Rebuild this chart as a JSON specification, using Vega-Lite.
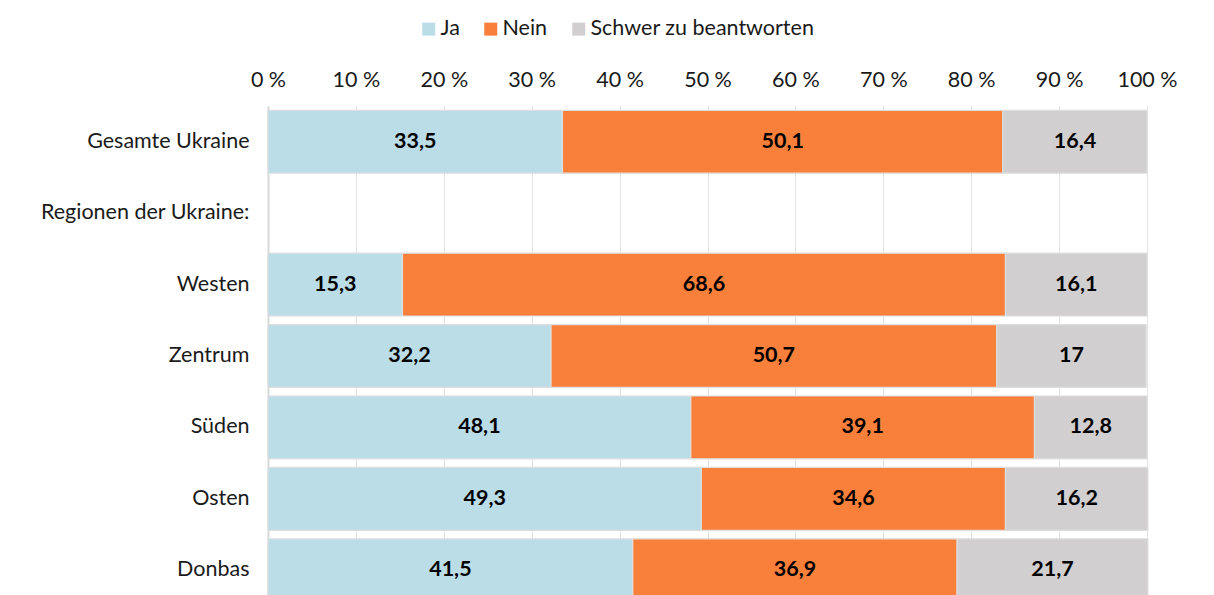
{
  "$schema": "https://vega.github.io/schema/vega-lite/v6.json",
  "autosize": {"type": "none"},
  "padding": {"left": 268, "top": 106, "right": 67, "bottom": 0},
  "width": 879,
  "height": 500,
  "background": "white",
  "config": {
    "font": "Lato",
    "view": {"stroke": null},
    "locale": {"number": {"decimal": ",", "thousands": ".", "grouping": [3], "currency": ["", " €"]}}
  },
  "data": {
    "values": [
      {"region": "Gesamte Ukraine", "answer": "Ja", "value": 33.5},
      {"region": "Gesamte Ukraine", "answer": "Nein", "value": 50.1},
      {"region": "Gesamte Ukraine", "answer": "Schwer zu beantworten", "value": 16.4},
      {"region": "Westen", "answer": "Ja", "value": 15.3},
      {"region": "Westen", "answer": "Nein", "value": 68.6},
      {"region": "Westen", "answer": "Schwer zu beantworten", "value": 16.1},
      {"region": "Zentrum", "answer": "Ja", "value": 32.2},
      {"region": "Zentrum", "answer": "Nein", "value": 50.7},
      {"region": "Zentrum", "answer": "Schwer zu beantworten", "value": 17},
      {"region": "Süden", "answer": "Ja", "value": 48.1},
      {"region": "Süden", "answer": "Nein", "value": 39.1},
      {"region": "Süden", "answer": "Schwer zu beantworten", "value": 12.8},
      {"region": "Osten", "answer": "Ja", "value": 49.3},
      {"region": "Osten", "answer": "Nein", "value": 34.6},
      {"region": "Osten", "answer": "Schwer zu beantworten", "value": 16.2},
      {"region": "Donbas", "answer": "Ja", "value": 41.5},
      {"region": "Donbas", "answer": "Nein", "value": 36.9},
      {"region": "Donbas", "answer": "Schwer zu beantworten", "value": 21.7}
    ]
  },
  "transform": [
    {"stack": "value", "groupby": ["region"], "sort": [{"field": "answer", "order": "ascending"}], "as": ["x0", "x1"]},
    {"calculate": "(datum.x0 + datum.x1) / 2", "as": "xm"}
  ],
  "encoding": {
    "y": {
      "field": "region",
      "type": "nominal",
      "scale": {
        "domain": ["Gesamte Ukraine", "Regionen der Ukraine:", "Westen", "Zentrum", "Süden", "Osten", "Donbas"],
        "paddingInner": 0.12,
        "paddingOuter": 0.06
      },
      "axis": {
        "title": null,
        "orient": "left",
        "ticks": false,
        "domain": true,
        "domainColor": "#d9d9d9",
        "domainWidth": 2,
        "labelFontSize": 21.5,
        "labelColor": "#1a1a1a",
        "labelPadding": 19,
        "labelLimit": 400,
        "labelFont": "Lato"
      }
    }
  },
  "layer": [
    {
      "mark": {"type": "bar", "stroke": "#dedede", "strokeWidth": 1.2},
      "encoding": {
        "x": {
          "field": "x0",
          "type": "quantitative",
          "scale": {"domain": [0, 100], "nice": false},
          "axis": {
            "title": null,
            "orient": "top",
            "values": [0, 10, 20, 30, 40, 50, 60, 70, 80, 90, 100],
            "labelExpr": "datum.value + ' %'",
            "labelFlush": false,
            "labelOverlap": false,
            "domain": false,
            "ticks": false,
            "grid": true,
            "gridColor": "#e3e3e3",
            "gridWidth": 1,
            "labelFontSize": 21.5,
            "labelColor": "#1a1a1a",
            "labelPadding": 15,
            "labelFont": "Lato"
          }
        },
        "x2": {"field": "x1"},
        "color": {
          "field": "answer",
          "type": "nominal",
          "scale": {
            "domain": ["Ja", "Nein", "Schwer zu beantworten"],
            "range": ["#badde8", "#f9803b", "#d1cfd0"]
          },
          "legend": {
            "title": null,
            "orient": "none",
            "direction": "horizontal",
            "legendX": 150,
            "legendY": -88,
            "symbolType": "square",
            "symbolSize": 169,
            "symbolStrokeWidth": 0,
            "labelFontSize": 21.5,
            "labelFont": "Lato",
            "labelColor": "#1a1a1a",
            "labelOffset": 1,
            "labelLimit": 500,
            "columnPadding": 20
          }
        }
      }
    },
    {
      "mark": {"type": "text", "fontSize": 21.5, "fontWeight": "bold", "font": "Lato", "color": "black", "baseline": "middle", "align": "center"},
      "encoding": {
        "x": {"field": "xm", "type": "quantitative"},
        "text": {"field": "value", "type": "quantitative"}
      }
    }
  ]
}
